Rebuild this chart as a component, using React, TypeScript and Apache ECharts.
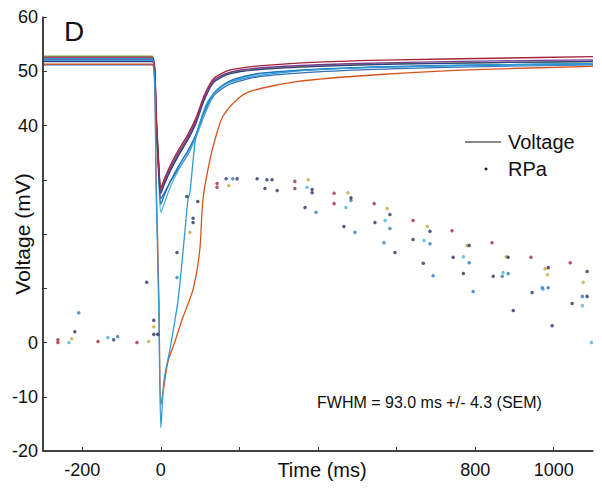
import React, { useEffect, useRef } from "react";
import * as echarts from "echarts";

// ---- axes ----
const X_TICKS = [-200, 0, 200, 400, 600, 800, 1000];
const X_LABELS = [-200, 0, 800, 1000];
const Y_LABELS = [-20, -10, 0, 40, 50, 60];

// ---- voltage traces (ms, mV) ----
const T_MAIN = [-300, -22, -12, -4, 0, 8, 23, 45, 70, 90, 110, 135, 175, 250, 400, 600, 850, 1100];
const V_DARKRED = [52.6, 52.6, 42, 31, 28.5, 30, 32.5, 35.5, 38.5, 41.5, 45.5, 48.7, 50.2, 51.0, 51.7, 52.1, 52.4, 52.7];
const V_PURPLE = [52.2, 52.2, 41.5, 30.5, 28, 29.5, 32, 35, 38, 41, 45, 48.3, 49.8, 50.6, 51.2, 51.6, 51.9, 52.1];
const V_NAVY = [51.8, 51.8, 41, 30, 27.5, 29, 31.5, 34.5, 37.5, 40.5, 44.6, 48, 49.5, 50.3, 50.9, 51.3, 51.6, 51.8];
const V_GREEN = [52.8, 52.8, 42.5, 31, 28, 29.2, 31.5, 34.5, 37.8, 41, 45, 48.2, 49.7, 50.4, 51, 51.4, 51.6, 51.8];
const V_BLUE = [52.4, 52.4, 41, 29, 25.5, 27, 29.5, 32.5, 35.5, 38.5, 42.5, 46, 48.2, 49.6, 50.4, 50.9, 51.2, 51.4];
const V_CYAN = [52.0, 52.0, 40, 28, 24, 25.5, 28.5, 31.8, 35, 38, 42, 45.8, 48, 49.5, 50.3, 50.8, 51.1, 51.3];
const V_STEEL = [51.2, 51.2, 40.5, 29.5, 26.5, 27.5, 29.5, 32, 34.8, 38, 41.8, 45.5, 47.6, 49, 49.9, 50.5, 50.9, 51.2];

const T_ORANGE = [-300, -22, -12, -5, 0, 8, 18, 35, 56, 82, 99, 107, 125, 143, 158, 194, 227, 346, 558, 800, 1100];
const V_ORANGE = [51.3, 51.3, 30, 8, -11.5, -8, -3.5, 0, 4.6, 9.8, 17, 26.3, 33.7, 38.7, 41.7, 44.8, 46.3, 48.1, 49.4, 50.3, 50.9];

const T_DEEPBLUE = [-300, -22, -12, -5, 0, 8, 23, 44, 61, 69, 74, 87, 99, 120, 160, 250, 400, 700, 1100];
const V_DEEPBLUE = [52.3, 52.3, 28, 5, -15.7, -7, -1.3, 7.9, 20.3, 26.4, 27.6, 36.9, 40.5, 44.5, 47.5, 49.2, 50.3, 51.0, 51.4];

// ---- RPa dots (ms, plotted on voltage scale) ----
const RPA_RED = [
  [-262, 0.5], [-262, 0], [-160, 0.2], [-61, 0], [143, 29.3], [143, 28.6], [341, 29.7], [341, 28.4],
  [441, 27.5], [441, 25.6], [543, 25.6], [642, 22.5], [741, 20.6], [843, 18.4], [942, 15.7], [1042, 14.7],
];
const RPA_YELLOW = [
  [-227, 0.7], [-31, 0.2], [-18, 2.9], [74, 20.3], [173, 28.9], [375, 30.0], [476, 27.6], [576, 24.7],
  [678, 21.4], [780, 17.9], [879, 15.8], [978, 13.6], [984, 12.5], [1075, 11.1],
];
const RPA_CYAN = [
  [-234, 0], [-135, 0.9], [372, 28.6], [471, 24.9], [571, 22.5], [670, 18.8], [770, 15.8], [871, 12.9],
  [973, 9.8], [1073, 6.8], [1096, 0],
];
const RPA_BLUE = [
  [-209, 5.5], [-110, 1.1], [41, 12.0], [183, 30.2], [395, 24.0], [484, 26.2], [494, 20.3], [568, 18.4],
  [583, 21.0], [685, 18.2], [693, 12.3], [785, 14.7], [795, 9.4], [869, 12.2], [884, 12.7], [971, 10.1],
  [986, 10.1], [1073, 8.5],
];
const RPA_NAVY = [
  [-219, 2.0], [-120, 0.5], [-36, 11.1], [-18, 4.1], [-18, 1.5], [-8, 1.5], [41, 16.6], [66, 26.9],
  [82, 22.9], [82, 22.1], [94, 26.0], [166, 30.2], [194, 30.2], [245, 30.2], [265, 28.4], [270, 30.0],
  [283, 30.0], [296, 28.0], [385, 28.2], [385, 27.6], [367, 24.9], [484, 26.7], [466, 21.4], [583, 23.6],
  [545, 22.1], [596, 16.6], [685, 20.5], [642, 19.0], [668, 14.6], [744, 15.7], [785, 17.9], [770, 12.7],
  [846, 12.2], [884, 15.7], [897, 5.9], [945, 9.2], [986, 13.8], [996, 3.1], [1047, 7.2], [1085, 13.1],
  [1085, 8.5],
];

const FONT = "'Liberation Sans', Arial, Helvetica, sans-serif";

// plot frame (px) — shared by grid and explicit axis lines
const G_LEFT = 43;
const G_TOP = 17;
const G_RIGHT = 9;
const G_BOTTOM = 38;
const W = 602;
const H = 489;

function pairs(t: number[], v: number[]) {
  return t.map((x, i) => [x, v[i]]);
}

export default function App() {
  const ref = useRef<HTMLDivElement>(null);
  useEffect(() => {
    if (!ref.current) return;
    const chart = echarts.init(ref.current, null, { renderer: "svg" });
    const lineTraces: [number[], number[], string][] = [
      [T_MAIN, V_GREEN, "#6fae3a"],
      [T_MAIN, V_STEEL, "#3a6fb8"],
      [T_MAIN, V_CYAN, "#48b6e2"],
      [T_MAIN, V_BLUE, "#1f6fb8"],
      [T_MAIN, V_NAVY, "#2b3f86"],
      [T_MAIN, V_PURPLE, "#7a3a92"],
      [T_MAIN, V_DARKRED, "#a2243a"],
      [T_ORANGE, V_ORANGE, "#d9531c"],
      [T_DEEPBLUE, V_DEEPBLUE, "#2f9ad6"],
    ];
    const dotSets: [number[][], string][] = [
      [RPA_RED, "#9e2d3c"],
      [RPA_YELLOW, "#c9a83a"],
      [RPA_CYAN, "#47b3de"],
      [RPA_BLUE, "#2a78bd"],
      [RPA_NAVY, "#2c3560"],
    ];
    const series: any[] = [];
    lineTraces.forEach(([t, v, c]) => {
      series.push({
        type: "line",
        name: "Voltage",
        data: pairs(t, v),
        showSymbol: false,
        smooth: 0.25,
        lineStyle: { color: c, width: 1.3 },
        itemStyle: { color: c },
        z: 2,
      });
    });
    dotSets.forEach(([d, c]) => {
      series.push({
        type: "scatter",
        name: "RPa",
        data: d,
        symbol: "circle",
        symbolSize: 3.5,
        itemStyle: { color: c },
        z: 3,
      });
    });
    const axisText = { color: "#111", fontFamily: FONT, fontSize: 18, formatter: (v: number) => String(v) };
    const xL = G_LEFT;
    const yB = H - G_BOTTOM;
    chart.setOption({
      animation: false,
      backgroundColor: "#fff",
      grid: { left: G_LEFT, right: G_RIGHT, top: G_TOP, bottom: G_BOTTOM, containLabel: false, outerBoundsMode: "none" },
      xAxis: {
        type: "value",
        min: -300,
        max: 1100,
        axisLine: { show: true, onZero: false, lineStyle: { color: "#333", width: 1.5 } },
        axisTick: { show: true, inside: true, length: 4, customValues: X_TICKS, lineStyle: { color: "#333" } },
        axisLabel: { ...axisText, margin: 10, customValues: X_LABELS },
        splitLine: { show: false },
      },
      yAxis: {
        type: "value",
        min: -20,
        max: 60,
        interval: 10,
        axisLine: { show: true, onZero: false, lineStyle: { color: "#333", width: 1.5 } },
        axisTick: { show: true, inside: true, length: 4, lineStyle: { color: "#333" } },
        axisLabel: { ...axisText, margin: 5, customValues: Y_LABELS },
        splitLine: { show: false },
      },
      series,
      graphic: [
        { type: "line", z: 10, shape: { x1: xL, y1: G_TOP, x2: xL, y2: yB }, style: { stroke: "#3a3a3a", lineWidth: 1.6 } },
        { type: "line", z: 10, shape: { x1: G_LEFT, y1: yB, x2: W - G_RIGHT, y2: yB }, style: { stroke: "#3a3a3a", lineWidth: 1.6 } },
        { type: "text", left: 64, top: 17, style: { text: "D", font: `28px ${FONT}`, fill: "#111" } },
        {
          type: "text", x: 22, y: 234, rotation: Math.PI / 2,
          style: { text: "Voltage (mV)", font: `21px ${FONT}`, fill: "#111", align: "center", verticalAlign: "middle" },
        },
        {
          type: "text", x: 322, y: 470,
          style: { text: "Time (ms)", font: `20px ${FONT}`, fill: "#111", align: "center", verticalAlign: "middle" },
        },
        {
          type: "text", x: 317, y: 402,
          style: { text: "FWHM = 93.0 ms +/- 4.3 (SEM)", font: `16px ${FONT}`, fill: "#111", align: "left", verticalAlign: "middle" },
        },
        { type: "line", shape: { x1: 465, y1: 142, x2: 501, y2: 142 }, style: { stroke: "#111", lineWidth: 1 } },
        {
          type: "text", x: 508, y: 142,
          style: { text: "Voltage", font: `20px ${FONT}`, fill: "#111", align: "left", verticalAlign: "middle" },
        },
        { type: "circle", shape: { cx: 486, cy: 169, r: 1.5 }, style: { fill: "#222" } },
        {
          type: "text", x: 508, y: 169,
          style: { text: "RPa", font: `20px ${FONT}`, fill: "#111", align: "left", verticalAlign: "middle" },
        },
      ],
    });
    return () => chart.dispose();
  }, []);
  return <div ref={ref} style={{ width: W, height: H, position: "absolute", left: 0, top: 0 }} />;
}
